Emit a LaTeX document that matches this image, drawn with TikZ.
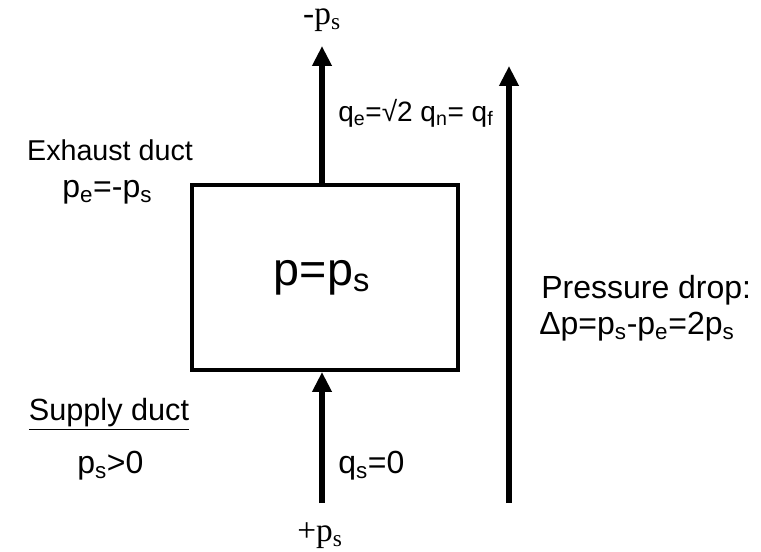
\documentclass[tikz,border=0pt]{standalone}
\usepackage{fontspec}
\setmainfont{Liberation Sans}
\newfontfamily\seriffont{Liberation Serif}
\usetikzlibrary{arrows.meta}
\tikzset{
  flow/.style={line width=4pt, -{Triangle[length=15pt,width=14pt]}},
  room/.style={draw, line width=3pt, minimum width=266*0.75pt, minimum height=185*0.75pt, inner sep=0pt},
  lbl/.style={font=\fontsize{23}{27}\selectfont, inner sep=0pt},
  flbl/.style={font=\fontsize{24}{28}\selectfont, inner sep=0pt},
  tlbl/.style={font=\seriffont\fontsize{25}{29}\selectfont, inner sep=0pt}
}
\newcommand{\sub}[1]{\textsubscript{#1}}
\begin{document}
\begin{tikzpicture}[x=0.75pt,y=-0.75pt]
\useasboundingbox (0,0) rectangle (761,552);
\node[room] (box) at (325,277.5) {};
\node[font=\fontsize{35}{40}\selectfont, inner sep=0pt] (plab) at (322,278) {p=p\sub{s}};
\coordinate (ttip) at (322,46);
\coordinate (bstart) at (322,503);
\coordinate (rstart) at (509,503);
\coordinate (rtip) at (509,66);
\draw[flow] (box.north -| ttip) -- (ttip);
\draw[flow] (bstart) -- (box.south -| bstart);
\draw[flow] (rstart) -- (rtip);
\node[tlbl] (mps) at (322,20) {-p\sub{s}};
\node[tlbl] (pps) at (320,536) {+p\sub{s}};
\node[lbl, font=\fontsize{21}{25}\selectfont, anchor=west] (qe) at (338,113) {q\sub{e}=√2 q\sub{n}= q\sub{f}};
\node[lbl, font=\fontsize{21.5}{25}\selectfont] (exh) at (110,150) {Exhaust duct};
\node[flbl, anchor=west] (pe) at (62,192) {p\sub{e}=-p\sub{s}};
\node[flbl, anchor=west] (pd) at (541,290) {Pressure drop:};
\node[flbl, anchor=west] (dp) at (539,327) {Δp=p\sub{s}-p\sub{e}=2p\sub{s}};
\node[lbl] (sup) at (109,414) {\underline{Supply duct}};
\node[flbl, anchor=west] (ps) at (77,466) {p\sub{s}>0};
\node[flbl, anchor=west] (qs) at (338,466) {q\sub{s}=0};
\end{tikzpicture}
\end{document}
